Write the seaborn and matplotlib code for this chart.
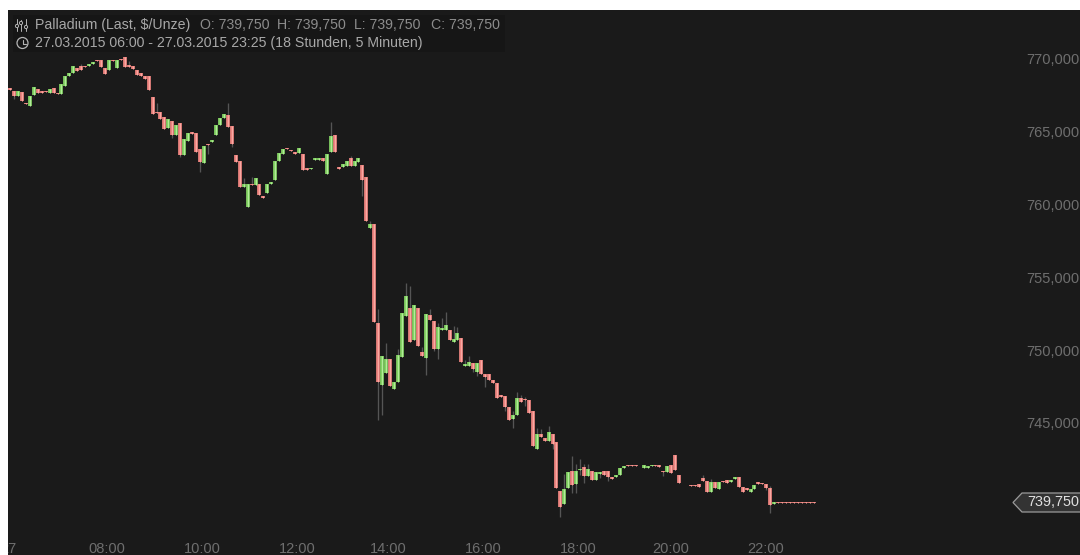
import matplotlib
matplotlib.use("Agg")
import matplotlib.pyplot as plt
import matplotlib.transforms as mtrans
from matplotlib.patches import Rectangle, Polygon, Circle
import pandas as pd
import seaborn as sns

# candle values, 5-minute bars in order (Palladium, $/Unze)
opens = [768.19,768.01,767.66,767.92,767.21,767.00,767.73,768.12,768.03,768.03,767.89,768.21,767.87,767.80,768.35,769.04,769.22,769.61,769.73,769.73,
 769.75,769.89,770.11,770.11,769.61,769.43,770.14,769.56,770.18,770.37,769.77,769.73,769.47,769.24,769.06,769.06,767.62,766.59,766.56,766.24,
 765.49,765.95,765.01,765.81,763.63,764.60,765.21,765.15,764.02,763.06,764.34,764.53,765.01,765.65,766.18,766.36,765.60,763.63,763.20,761.41,
 760.02,761.62,761.55,761.62,760.79,761.02,761.60,761.87,763.22,763.68,764.07,763.98,763.79,763.73,763.70,762.70,762.67,763.27,763.27,763.43,
 762.28,763.79,764.96,762.81,762.79,762.83,763.38,762.83,763.13,762.95,762.08,758.57,758.85,752.05,747.83,748.61,749.62,747.51,748.00,749.76,
 752.57,753.08,750.88,753.08,750.05,749.66,752.60,752.18,750.31,751.61,751.59,751.57,750.79,750.88,751.06,749.12,749.12,749.30,748.70,749.55,
 748.59,748.59,748.18,747.95,747.10,747.05,746.32,745.47,745.73,746.89,746.85,746.76,746.00,743.41,744.42,744.17,743.96,744.42,743.87,740.55,
 739.61,740.71,741.92,741.01,741.97,742.18,741.58,741.92,741.26,741.72,741.92,741.92,741.47,741.51,741.65,742.11,742.31,742.31,742.31,742.34,
 742.13,742.13,742.27,742.34,742.31,741.88,741.83,742.31,742.98,741.60,741.05,741.05,740.96,740.96,741.05,741.40,741.19,740.44,741.12,740.67,
 741.19,741.26,741.17,741.33,741.47,740.83,740.71,740.50,740.69,741.12,741.08,741.03,740.73,739.63,
 739.80,739.80,739.80,739.80,739.80,739.80,739.80,739.80,739.80,739.80]
closes = [768.08,767.69,768.01,767.32,767.09,767.69,768.26,767.89,767.89,767.96,768.12,767.87,767.80,768.51,769.04,769.22,769.73,769.40,769.43,769.66,
 769.86,769.98,770.05,769.66,769.18,770.11,770.09,770.11,770.11,769.66,769.66,769.50,769.08,769.06,768.81,768.10,766.45,766.52,766.11,765.42,
 766.08,765.01,765.67,763.59,764.73,765.12,765.03,763.79,763.15,764.25,764.27,764.66,765.67,766.18,766.43,765.51,764.34,763.15,761.41,761.60,
 761.62,761.55,762.01,760.89,760.68,761.60,761.78,763.20,763.75,764.02,764.00,763.89,763.66,764.09,762.60,762.60,762.74,763.43,763.43,763.22,
 763.70,764.92,763.84,762.67,762.99,763.18,762.86,763.18,763.43,761.87,759.05,758.85,752.16,748.00,749.78,749.57,747.74,748.02,749.85,752.76,
 753.90,750.79,753.33,750.49,749.83,752.69,752.25,750.31,751.77,751.73,751.95,750.88,750.99,751.38,749.37,749.25,749.39,748.93,749.30,748.57,
 748.38,748.15,747.97,746.94,747.01,746.32,745.43,745.77,746.89,746.62,746.78,745.91,743.64,744.42,744.24,743.96,744.60,743.73,740.76,739.47,
 740.67,741.86,740.92,741.92,742.08,741.56,742.02,741.26,741.81,741.81,741.65,741.49,741.37,741.60,742.13,742.25,742.22,742.27,742.27,742.29,
 742.31,742.25,742.31,742.27,742.20,741.81,742.25,741.76,741.97,741.08,740.99,740.99,740.85,740.85,740.83,741.24,740.50,741.12,740.76,741.12,
 741.12,741.08,741.28,741.47,740.83,740.50,740.62,740.67,740.92,741.05,741.01,740.73,739.57,739.77,
 739.70,739.70,739.70,739.70,739.70,739.70,739.70,739.70,739.70,739.70]

# wick extremes where a wick is visible: candle number and price
high_bars = [18,30,37,55,59,61,81,86,91,93,95,98,100,101,104,106,108,109,110,112,113,115,116,127,128,129,130,133,134,136,140,142,143,144,145,146,175,177,192]
high_vals = [769.86,770.07,767.16,767.21,762.05,762.08,765.88,763.54,759.10,753.01,750.67,750.26,754.79,754.63,750.44,753.01,752.05,752.39,752.85,751.89,751.82,749.53,749.80,746.05,747.31,747.10,747.01,744.83,744.76,744.99,741.70,742.93,742.38,742.75,742.38,742.36,741.63,741.33,740.87]
low_bars = [1,41,43,48,50,56,89,93,94,105,107,108,117,118,120,125,127,130,137,139,142,143,144,145,149,151,165,191,192]
low_vals = [767.44,764.76,763.45,762.44,763.66,764.18,760.82,745.41,745.75,748.47,750.17,749.57,748.70,748.45,747.65,746.05,744.86,746.37,743.39,738.76,740.41,740.37,741.60,741.10,741.40,741.24,741.56,740.60,739.04]

x_tick_pos = [-0.5, 24.5, 48.5, 72.5, 95.5, 119.6, 143.6, 166.8, 190.7]
x_tick_labels = ["27", "08:00", "10:00", "12:00", "14:00", "16:00", "18:00", "20:00", "22:00"]
y_ticks = [770, 765, 760, 755, 750, 745]
y_tick_labels = ["770,000", "765,000", "760,000", "755,000", "750,000", "745,000"]
last_price = 739.75

BG = "#1a1a1a"
sns.set_theme(style="dark", rc={"axes.facecolor": BG, "figure.facecolor": "white",
                                "axes.grid": False, "axes.edgecolor": BG})
plt.rcParams["font.family"] = ["Liberation Sans", "DejaVu Sans"]

fig = plt.figure(figsize=(10.8, 5.55), dpi=100)
ax = fig.add_axes([8 / 1080, 0, 1072 / 1080, 545 / 555])

# long tables for seaborn
body_rows, wick_rows = [], []
for i, (o, c) in enumerate(zip(opens, closes)):
    kind = "up" if c > o else "down"
    body_rows += [dict(bar=i, price=o, kind=kind), dict(bar=i, price=c, kind=kind)]
for i, v in zip(high_bars, high_vals):
    wick_rows += [dict(bar=i, price=v, seg=f"h{i}"), dict(bar=i, price=max(opens[i], closes[i]), seg=f"h{i}")]
for i, v in zip(low_bars, low_vals):
    wick_rows += [dict(bar=i, price=v, seg=f"l{i}"), dict(bar=i, price=min(opens[i], closes[i]), seg=f"l{i}")]
bodies = pd.DataFrame(body_rows)
wicks = pd.DataFrame(wick_rows)

sns.lineplot(data=wicks, x="bar", y="price", units="seg", estimator=None, sort=False,
             color="#555555", lw=0.95, solid_capstyle="butt", legend=False, ax=ax)
sns.lineplot(data=bodies, x="bar", y="price", hue="kind", units="bar", estimator=None, sort=False,
             palette={"up": "#85d465", "down": "#ee8580"}, lw=2.7, solid_capstyle="butt",
             legend=False, ax=ax)
sns.lineplot(data=bodies, x="bar", y="price", hue="kind", units="bar", estimator=None, sort=False,
             palette={"up": "#b4ec9c", "down": "#fbaba5"}, lw=0.7, solid_capstyle="butt",
             legend=False, ax=ax)

ax.set_xlim(-0.5, 270.2)
ax.set_ylim(736.14, 773.57)
ax.set_xlabel("")
ax.set_ylabel("")
for s in ax.spines.values():
    s.set_visible(False)

ax.set_xticks(x_tick_pos)
ax.set_xticklabels(x_tick_labels)
ax.tick_params(axis="x", length=0, pad=-9.2, labelsize=10.5, labelcolor="#6e6e6e")
for lab in ax.get_xticklabels():
    lab.set_clip_box(ax.bbox)
    lab.set_clip_on(True)

ax.yaxis.tick_right()
ax.set_yticks(y_ticks)
ax.set_yticklabels(y_tick_labels)
ax.tick_params(axis="y", length=0, pad=-0.5, labelsize=10.5, labelcolor="#6e6e6e")
shift = mtrans.ScaledTranslation(0, 3 / 100, fig.dpi_scale_trans)
for lab in ax.get_yticklabels():
    lab.set_ha("right")
    lab.set_transform(lab.get_transform() + shift)


# helper: reference pixel coordinates for chrome elements
def px(x, y):
    return (x, 555 - y)


T = mtrans.IdentityTransform()
kw = dict(transform=T, clip_on=False)
fig.add_artist(Rectangle(px(13, 52), 492, 37, facecolor="#161616", edgecolor="none", zorder=1, **kw))
hdr = dict(transform=T, color="#a8a8a8", fontsize=10.2, va="center", ha="left", zorder=3)
fig.text(*px(35, 25), "Palladium (Last, $/Unze)", **hdr)
for xpos, s in zip([200, 277, 354, 431], ["O: 739,750", "H: 739,750", "L: 739,750", "C: 739,750"]):
    fig.text(*px(xpos, 25), s, **{**hdr, "color": "#8c8c8c"})
fig.text(*px(35, 43), "27.03.2015 06:00 - 27.03.2015 23:25 (18 Stunden, 5 Minuten)", **hdr)

# small icons
for xp, y0, y1, yb in [(17, 19, 31, 26), (21, 20, 31, 23), (26, 19, 31, 27)]:
    fig.add_artist(plt.Line2D([px(xp, y0)[0], px(xp, y1)[0]], [px(xp, y0)[1], px(xp, y1)[1]],
                              color="#b5b5b5", lw=0.7, zorder=3, transform=T))
    fig.add_artist(Circle(px(xp, yb), 1.6, facecolor="#161616", edgecolor="#b5b5b5", lw=0.7, zorder=4, transform=T))
fig.add_artist(Circle(px(22.5, 43), 5.5, facecolor="none", edgecolor="#b5b5b5", lw=0.9, zorder=3, transform=T))
fig.add_artist(plt.Line2D([22.5, 22.5, 26], [555 - 39.5, 555 - 43.5, 555 - 43.5], color="#b5b5b5", lw=0.8, zorder=3, transform=T))

# last-price tag
fig.add_artist(Polygon([px(1013, 502.5), px(1022, 493), px(1081, 493), px(1081, 512), px(1022, 512)],
                       closed=True, facecolor="#333333", edgecolor="#9a9a9a", lw=0.9, zorder=3, transform=T))
fig.text(*px(1079.5, 502.5), f"{last_price:.3f}".replace(".", ","), transform=T, color="#e0e0e0",
         fontsize=10.4, va="center", ha="right", zorder=4)

fig.savefig("out.png", dpi=100, facecolor="white")
